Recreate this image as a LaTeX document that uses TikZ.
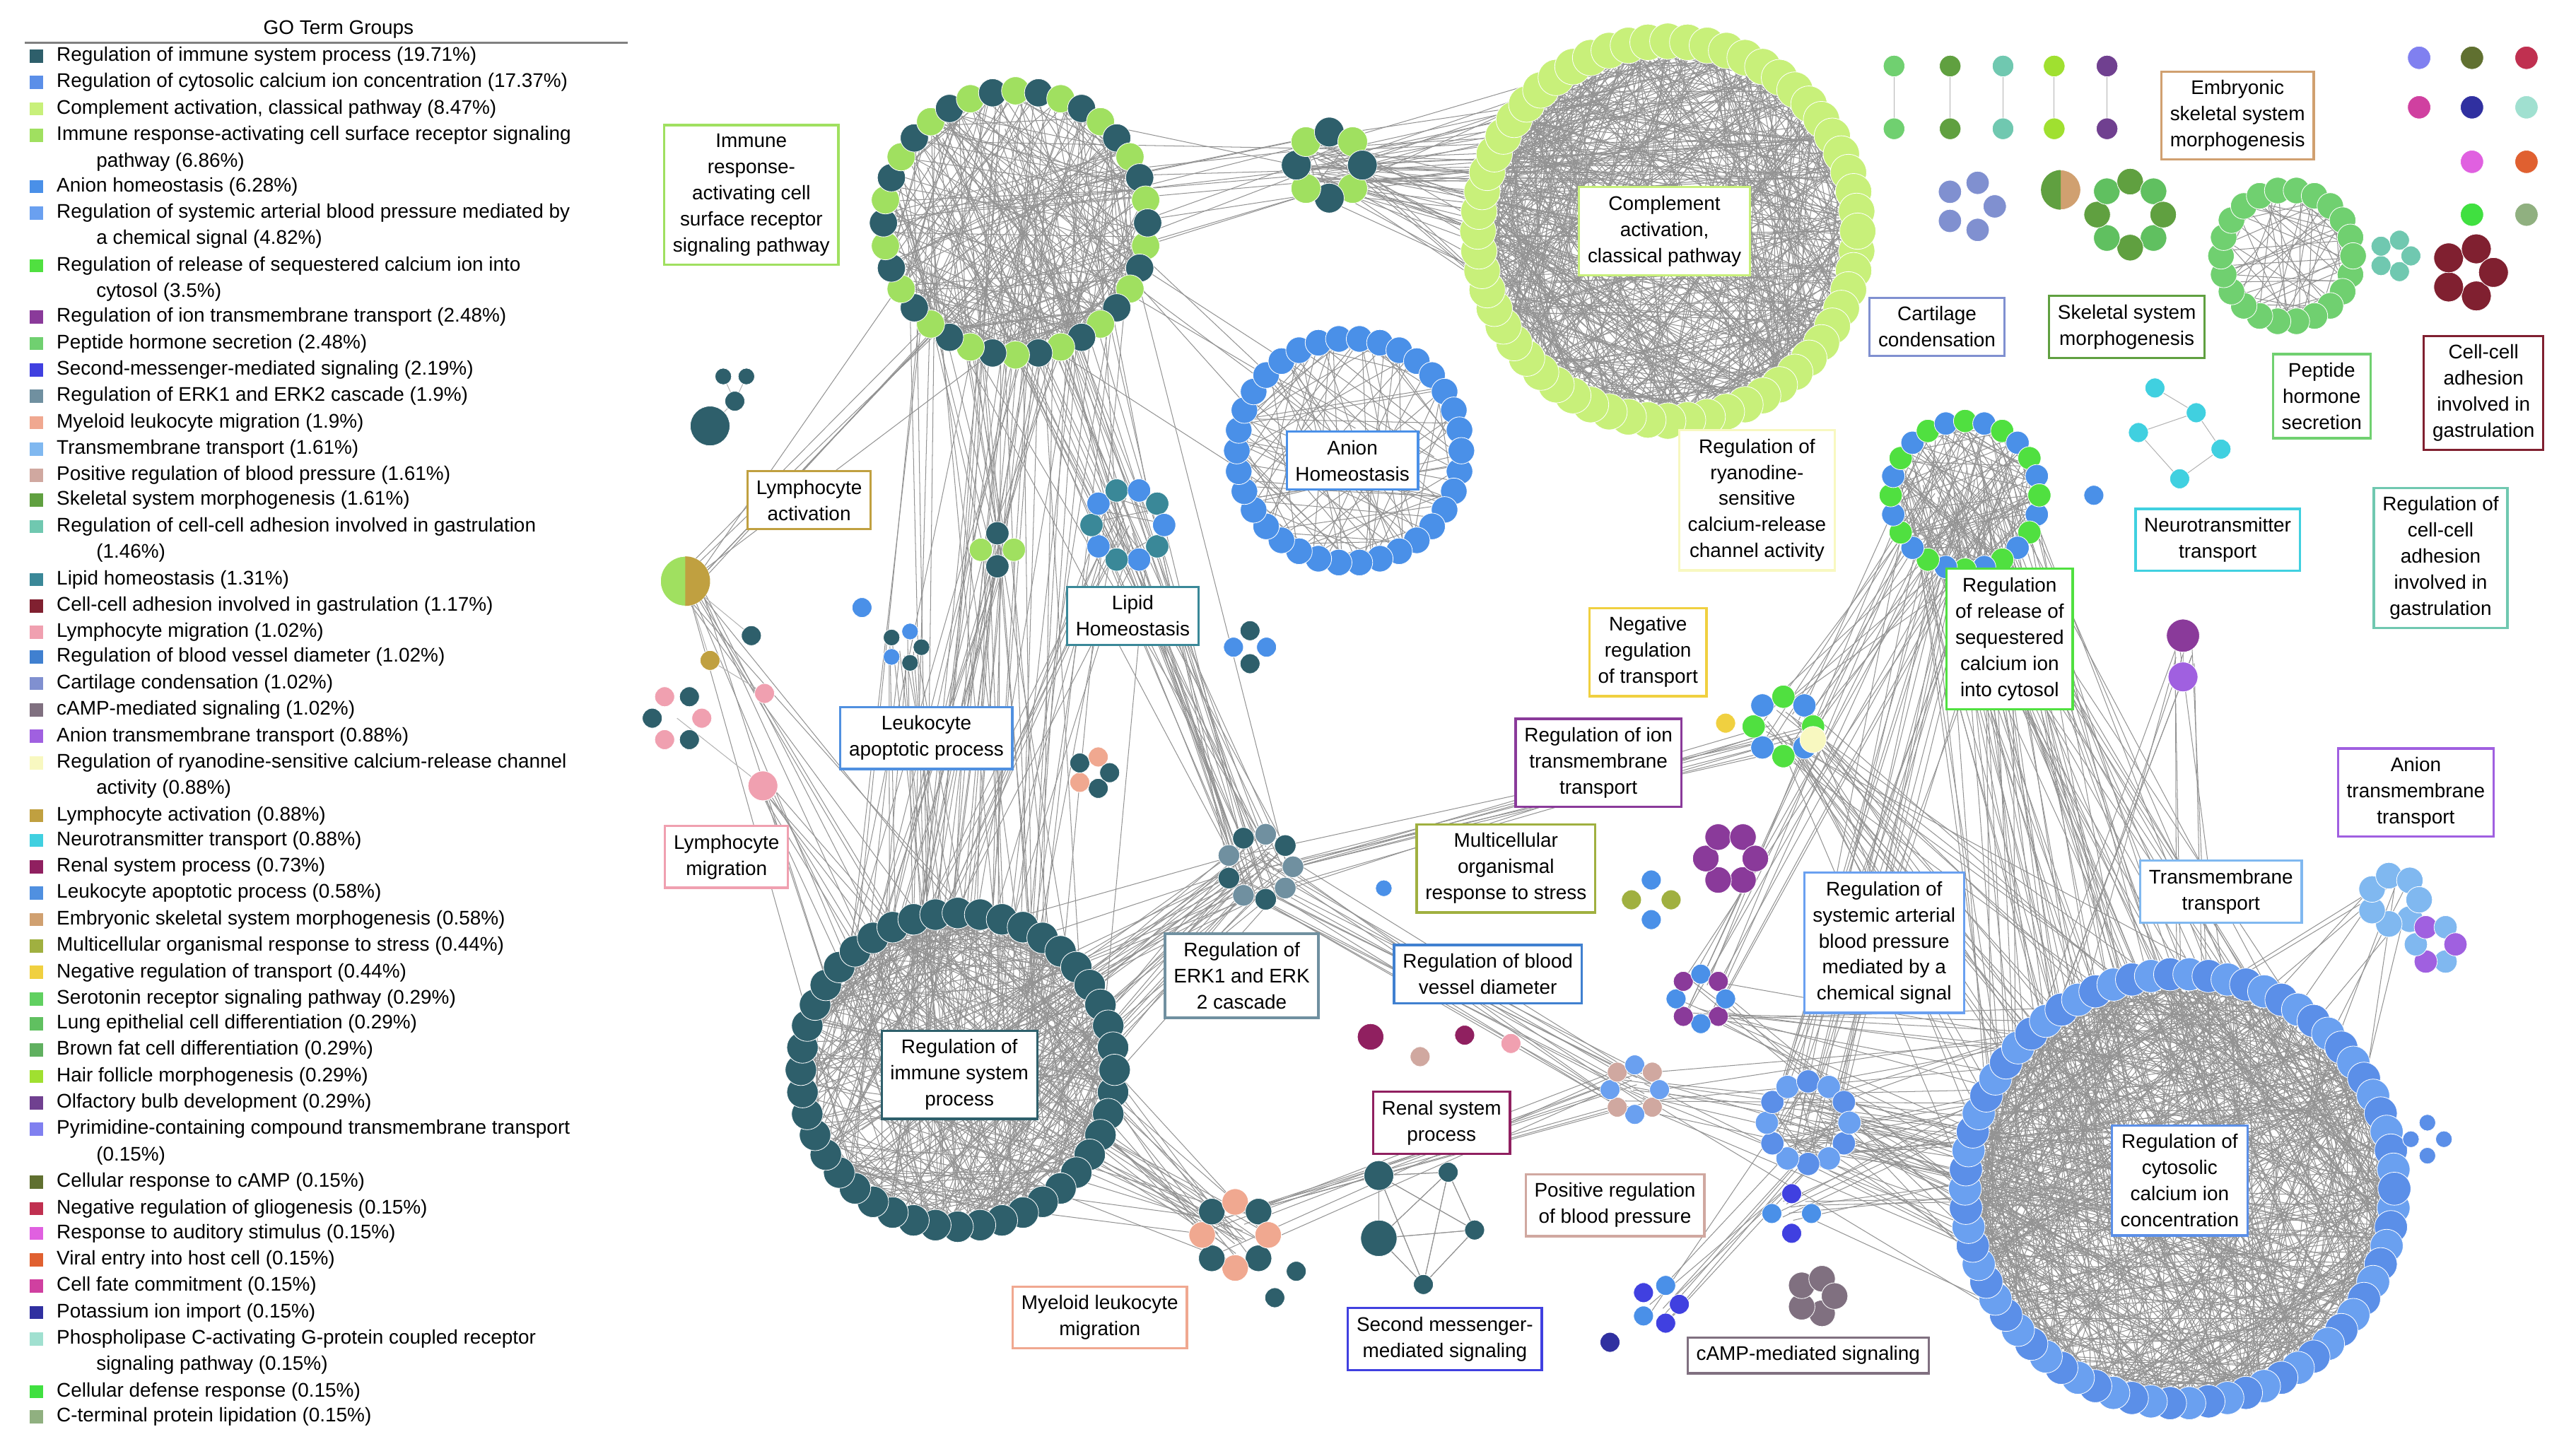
\documentclass[tikz,border=0pt]{standalone}
\usepackage{fontspec}
\setmainfont{Liberation Sans}
\usetikzlibrary{calc}
\definecolor{c1}{HTML}{2E5F6B}\definecolor{c2}{HTML}{5B8FE8}\definecolor{c3}{HTML}{C8F07A}
\definecolor{c4}{HTML}{A0E060}\definecolor{c5}{HTML}{4A90E8}\definecolor{c6}{HTML}{6AA0F0}
\definecolor{c7}{HTML}{50E040}\definecolor{c8}{HTML}{8A3A9A}\definecolor{c9}{HTML}{70D070}
\definecolor{c10}{HTML}{4040E0}\definecolor{c11}{HTML}{7090A0}\definecolor{c12}{HTML}{F0A890}
\definecolor{c13}{HTML}{80B8F0}\definecolor{c14}{HTML}{D0A8A0}\definecolor{c15}{HTML}{60A040}
\definecolor{c16}{HTML}{70C8B0}\definecolor{c17}{HTML}{3A8898}\definecolor{c18}{HTML}{802030}
\definecolor{c19}{HTML}{F0A0B0}\definecolor{c20}{HTML}{4080D0}\definecolor{c21}{HTML}{8090D0}
\definecolor{c22}{HTML}{807080}\definecolor{c23}{HTML}{A060E0}\definecolor{c24}{HTML}{F8F8C0}
\definecolor{c25}{HTML}{C0A040}\definecolor{c26}{HTML}{40D0E0}\definecolor{c27}{HTML}{902060}
\definecolor{c28}{HTML}{5090E0}\definecolor{c29}{HTML}{D0A070}\definecolor{c30}{HTML}{A0B040}
\definecolor{c31}{HTML}{F0D040}\definecolor{c32}{HTML}{60D060}\definecolor{c33}{HTML}{60C060}
\definecolor{c34}{HTML}{60B060}\definecolor{c35}{HTML}{A0E030}\definecolor{c36}{HTML}{704090}
\definecolor{c37}{HTML}{8080F0}\definecolor{c38}{HTML}{607030}\definecolor{c39}{HTML}{C03050}
\definecolor{c40}{HTML}{E060E0}\definecolor{c41}{HTML}{E06030}\definecolor{c42}{HTML}{D040A0}
\definecolor{c43}{HTML}{3030A0}\definecolor{c44}{HTML}{A0E0D0}\definecolor{c45}{HTML}{40E040}
\definecolor{c46}{HTML}{90B080}
\tikzset{
 edge/.style={gray!85,line width=0.25pt},
 lab/.style={draw=#1,fill=white,line width=0.8pt,font=\fontsize{6.8}{9}\selectfont,align=center,inner sep=3pt},
 legt/.style={anchor=west,font=\fontsize{6.8}{9}\selectfont,inner sep=0pt},
 dot/.style={draw=white,line width=0.2pt}
}
\newcommand{\leg}[3]{\fill[#2] (18,#1-4) rectangle (26,#1+4); \node[legt] (L#2) at (34,#1) {#3};}
\newcommand{\legc}[2]{\node[legt] at (58,#1) {#2};}
\newcommand{\chords}[4]{\foreach \k in {1,...,#4}{\pgfmathsetmacro\pa{rnd*360}\pgfmathsetmacro\pb{rnd*360}
 \draw[edge] ($(#1,#2)+(\pa:#3)$) -- ($(#1,#2)+(\pb:#3)$);}}
\newcommand{\bundle}[7]{\foreach \k in {1,...,#7}{\pgfmathsetmacro\pa{rnd*360}\pgfmathsetmacro\pr{#3*sqrt(rnd)}
 \pgfmathsetmacro\pb{rnd*360}\pgfmathsetmacro\ps{#6*sqrt(rnd)}
 \draw[edge] ($(#1,#2)+(\pa:\pr)$) -- ($(#4,#5)+(\pb:\ps)$);}}
\newcommand{\ring}[7]{\foreach \k in {1,...,#4}{\pgfmathsetmacro\pa{360/#4*\k}
 \pgfmathtruncatemacro\pmd{mod(\k,2)}
 \ifnum\pmd=0 \fill[dot,fill=#6] ($(#1,#2)+(\pa:#3)$) circle (#5);\else \fill[dot,fill=#7] ($(#1,#2)+(\pa:#3)$) circle (#5);\fi}}
\begin{document}
\begin{tikzpicture}[x=0.02cm,y=-0.02cm]
\useasboundingbox (0,0) rectangle (1560,874.6);
\pgfmathsetseed{7}
% ---------- legend
\node[font=\fontsize{6.8}{9}\selectfont] (gt) at (205,18) {GO Term Groups};
\draw[gray,line width=0.6pt] (15,26) -- (380,26);
\leg{34}{c1}{Regulation of immune system process (19.71\%)}
\leg{50}{c2}{Regulation of cytosolic calcium ion concentration (17.37\%)}
\leg{66}{c3}{Complement activation, classical pathway (8.47\%)}
\leg{82}{c4}{Immune response-activating cell surface receptor signaling}
\legc{98}{pathway (6.86\%)}
\leg{113}{c5}{Anion homeostasis (6.28\%)}
\leg{129}{c6}{Regulation of systemic arterial blood pressure mediated by}
\legc{145}{a chemical signal (4.82\%)}
\leg{161}{c7}{Regulation of release of sequestered calcium ion into}
\legc{177}{cytosol (3.5\%)}
\leg{192}{c8}{Regulation of ion transmembrane transport (2.48\%)}
\leg{208}{c9}{Peptide hormone secretion (2.48\%)}
\leg{224}{c10}{Second-messenger-mediated signaling (2.19\%)}
\leg{240}{c11}{Regulation of ERK1 and ERK2 cascade (1.9\%)}
\leg{256}{c12}{Myeloid leukocyte migration (1.9\%)}
\leg{272}{c13}{Transmembrane transport (1.61\%)}
\leg{288}{c14}{Positive regulation of blood pressure (1.61\%)}
\leg{303}{c15}{Skeletal system morphogenesis (1.61\%)}
\leg{319}{c16}{Regulation of cell-cell adhesion involved in gastrulation}
\legc{335}{(1.46\%)}
\leg{351}{c17}{Lipid homeostasis (1.31\%)}
\leg{367}{c18}{Cell-cell adhesion involved in gastrulation (1.17\%)}
\leg{383}{c19}{Lymphocyte migration (1.02\%)}
\leg{398}{c20}{Regulation of blood vessel diameter (1.02\%)}
\leg{414}{c21}{Cartilage condensation (1.02\%)}
\leg{430}{c22}{cAMP-mediated signaling (1.02\%)}
\leg{446}{c23}{Anion transmembrane transport (0.88\%)}
\leg{462}{c24}{Regulation of ryanodine-sensitive calcium-release channel}
\legc{478}{activity (0.88\%)}
\leg{494}{c25}{Lymphocyte activation (0.88\%)}
\leg{509}{c26}{Neurotransmitter transport (0.88\%)}
\leg{525}{c27}{Renal system process (0.73\%)}
\leg{541}{c28}{Leukocyte apoptotic process (0.58\%)}
\leg{557}{c29}{Embryonic skeletal system morphogenesis (0.58\%)}
\leg{573}{c30}{Multicellular organismal response to stress (0.44\%)}
\leg{589}{c31}{Negative regulation of transport (0.44\%)}
\leg{605}{c32}{Serotonin receptor signaling pathway (0.29\%)}
\leg{620}{c33}{Lung epithelial cell differentiation (0.29\%)}
\leg{636}{c34}{Brown fat cell differentiation (0.29\%)}
\leg{652}{c35}{Hair follicle morphogenesis (0.29\%)}
\leg{668}{c36}{Olfactory bulb development (0.29\%)}
\leg{684}{c37}{Pyrimidine-containing compound transmembrane transport}
\legc{700}{(0.15\%)}
\leg{716}{c38}{Cellular response to cAMP (0.15\%)}
\leg{732}{c39}{Negative regulation of gliogenesis (0.15\%)}
\leg{747}{c40}{Response to auditory stimulus (0.15\%)}
\leg{763}{c41}{Viral entry into host cell (0.15\%)}
\leg{779}{c42}{Cell fate commitment (0.15\%)}
\leg{795}{c43}{Potassium ion import (0.15\%)}
\leg{811}{c44}{Phospholipase C-activating G-protein coupled receptor}
\legc{827}{signaling pathway (0.15\%)}
\leg{843}{c45}{Cellular defense response (0.15\%)}
\leg{858}{c46}{C-terminal protein lipidation (0.15\%)}
% ---------- edges
\chords{615}{135}{80}{220}
\chords{1010}{140}{115}{600}
\chords{805}{100}{20}{15}
\chords{817}{273}{68}{110}
\chords{580}{648}{95}{380}
\chords{1320}{720}{130}{650}
\chords{1190}{300}{45}{110}
\chords{1385}{155}{40}{70}
\chords{1095}{680}{25}{30}
\chords{683}{318}{22}{15}
\bundle{805}{100}{20}{1010}{140}{110}{60}
\bundle{615}{135}{75}{805}{100}{20}{15}
\bundle{615}{135}{75}{580}{648}{90}{45}
\bundle{615}{135}{75}{763}{525}{20}{20}
\bundle{580}{648}{90}{763}{525}{20}{35}
\bundle{580}{648}{90}{748}{748}{20}{30}
\bundle{580}{648}{90}{604}{333}{10}{15}
\bundle{615}{135}{75}{604}{333}{10}{10}
\bundle{763}{525}{20}{1080}{440}{18}{10}
\bundle{1190}{300}{45}{1320}{720}{125}{70}
\bundle{1190}{300}{45}{1095}{680}{25}{20}
\bundle{1320}{720}{125}{1095}{680}{25}{40}
\bundle{1320}{720}{125}{990}{660}{15}{15}
\bundle{1320}{720}{125}{1030}{605}{15}{15}
\bundle{580}{648}{90}{683}{318}{22}{12}
\bundle{615}{135}{75}{683}{318}{22}{10}
\bundle{415}{352}{10}{615}{135}{75}{8}
\bundle{415}{352}{10}{580}{648}{90}{10}
\bundle{1080}{440}{18}{1320}{720}{125}{25}
\bundle{1190}{300}{45}{1080}{440}{18}{12}
\bundle{817}{273}{60}{615}{135}{75}{6}
\bundle{683}{318}{22}{763}{525}{20}{10}
\bundle{990}{660}{15}{748}{748}{20}{10}
\bundle{763}{525}{20}{990}{660}{15}{15}
\bundle{1030}{605}{15}{1190}{300}{45}{12}
\bundle{1322}{397}{10}{1320}{720}{125}{10}
\bundle{1450}{540}{15}{1320}{720}{125}{10}
\bundle{548}{392}{10}{580}{648}{90}{12}
\bundle{462}{476}{5}{580}{648}{90}{8}
\bundle{1005}{790}{12}{1095}{680}{25}{8}
\bundle{1085}{735}{12}{1320}{720}{125}{10}
\foreach \a/\b in {835/712,877/710,893/745,862/778,835/750}{\foreach \c/\d in {835/712,877/710,893/745,862/778,835/750}{\draw[edge] (\a,\b)--(\c,\d);}}
\foreach \a/\b/\c/\d in {1305/235/1330/250,1330/250/1295/262,1295/262/1320/290,1320/290/1345/272,1345/272/1330/250,1147/40/1147/78,1181/40/1181/78,1213/40/1213/78,1244/40/1244/78,1276/40/1276/78,1322/385/1322/410,430/258/445/243,445/243/452/228,445/243/438/228,415/352/430/400,415/352/455/385,430/400/463/420,410/435/462/476}{\draw[edge,gray!60] (\a,\b)--(\c,\d);}
% ---------- big clusters
\ring{615}{135}{80}{36}{8.5}{c1}{c4}
\ring{1010}{140}{115}{60}{11}{c3}{c3}
\ring{817}{273}{68}{34}{8}{c5}{c5}
\ring{580}{648}{95}{44}{9.5}{c1}{c1}
\ring{1320}{720}{130}{70}{10}{c2}{c6}
\ring{1190}{300}{45}{24}{7}{c7}{c5}
\ring{1385}{155}{40}{22}{8}{c9}{c9}
% ---------- small clusters
\ring{805}{100}{20}{8}{9}{c1}{c4}
\fill[dot,fill=c1] (430,258) circle (12); \fill[dot,fill=c1] (445,243) circle (6);
\fill[dot,fill=c1] (452,228) circle (5); \fill[dot,fill=c1] (438,228) circle (5);
\fill[dot,fill=c4] (415,352) circle (15); \fill[c25] (415,337) arc (-90:90:15) -- cycle;
\fill[dot,fill=c25] (430,400) circle (6); \fill[dot,fill=c1] (455,385) circle (6); \fill[dot,fill=c19] (463,420) circle (6);
\ring{410}{435}{15}{6}{6}{c19}{c1}
\fill[dot,fill=c19] (462,476) circle (9);
\ring{604}{333}{10}{4}{7}{c4}{c1}
\ring{683}{318}{22}{10}{7}{c5}{c17}
\ring{548}{392}{10}{5}{5}{c5}{c1}
\ring{757}{392}{10}{4}{6}{c5}{c1}
\fill[dot,fill=c5] (522,368) circle (6);
\ring{662}{468}{10}{5}{6}{c12}{c1}
\ring{763}{525}{20}{9}{6.5}{c1}{c11}
\fill[dot,fill=c5] (838,538) circle (5);
\ring{748}{748}{20}{8}{8}{c12}{c1}
\fill[dot,fill=c1] (785,770) circle (6); \fill[dot,fill=c1] (772,786) circle (6);
\foreach \a/\b/\r in {835/712/9,877/710/6,893/745/6,862/778/6,835/750/11}{\fill[dot,fill=c1] (\a,\b) circle (\r);}
\fill[dot,fill=c27] (830,628) circle (8); \fill[dot,fill=c27] (887,627) circle (6);
\fill[dot,fill=c19] (915,632) circle (6); \fill[dot,fill=c14] (860,640) circle (6);
\ring{1000}{545}{12}{4}{6}{c30}{c5}
\ring{1048}{520}{15}{6}{8}{c8}{c8}
\ring{1030}{605}{15}{8}{6}{c5}{c8}
\ring{990}{660}{15}{8}{6}{c6}{c14}
\ring{1095}{680}{25}{12}{7}{c6}{c2}
\ring{1085}{735}{12}{4}{6}{c5}{c10}
\ring{1005}{790}{12}{5}{6}{c5}{c10}
\fill[dot,fill=c43] (975,813) circle (6);
\ring{1100}{785}{11}{5}{8}{c22}{c22}
\ring{1080}{440}{18}{8}{7}{c7}{c5}
\fill[dot,fill=c31] (1045,438) circle (6); \fill[dot,fill=c24] (1098,448) circle (8);
\fill[dot,fill=c8] (1322,385) circle (10); \fill[dot,fill=c23] (1322,410) circle (9);
\fill[dot,fill=c5] (1268,300) circle (6);
\foreach \a/\b in {1305/235,1330/250,1295/262,1320/290,1345/272}{\fill[dot,fill=c26] (\a,\b) circle (6);}
\foreach \a/\c in {1147/c9,1181/c15,1213/c16,1244/c35,1276/c36}{\fill[dot,fill=\c] (\a,40) circle (6.5); \fill[dot,fill=\c] (\a,78) circle (6.5);}
\foreach \a/\b/\c in {1465/35/c37,1497/35/c38,1530/35/c39,1465/65/c42,1497/65/c43,1530/65/c44,1497/98/c40,1530/98/c41,1497/130/c45,1530/130/c46}{\fill[dot,fill=\c] (\a,\b) circle (7);}
\fill[dot,fill=c29] (1248,115) circle (12); \fill[c15] (1248,127) arc (90:270:12) -- cycle;
\ring{1290}{130}{20}{8}{8}{c15}{c33}
\ring{1193}{125}{15}{5}{7}{c21}{c21}
\ring{1450}{155}{10}{5}{6}{c16}{c16}
\ring{1495}{165}{15}{5}{9}{c18}{c18}
\ring{1450}{545}{15}{7}{8}{c13}{c13}
\ring{1475}{572}{12}{6}{7}{c23}{c13}
\ring{1470}{690}{10}{4}{5}{c2}{c2}
% ---------- labels
\node[lab=c4] (n1) at (455,118) {Immune\\response-\\activating cell\\surface receptor\\signaling pathway};
\node[lab=c3] (n2) at (1008,140) {Complement\\activation,\\classical pathway};
\node[lab=c29] (n3) at (1355,70) {Embryonic\\skeletal system\\morphogenesis};
\node[lab=c21] (n4) at (1173,198) {Cartilage\\condensation};
\node[lab=c15] (n5) at (1288,198) {Skeletal system\\morphogenesis};
\node[lab=c9] (n6) at (1406,240) {Peptide\\hormone\\secretion};
\node[lab=c18] (n7) at (1504,238) {Cell-cell\\adhesion\\involved in\\gastrulation};
\node[lab=c5] (n8) at (819,279) {Anion\\Homeostasis};
\node[lab=c25] (n9) at (490,303) {Lymphocyte\\activation};
\node[lab=c24] (n10) at (1064,303) {Regulation of\\ryanodine-\\sensitive\\calcium-release\\channel activity};
\node[lab=c26] (n11) at (1343,327) {Neurotransmitter\\transport};
\node[lab=c16] (n12) at (1478,338) {Regulation of\\cell-cell\\adhesion\\involved in\\gastrulation};
\node[lab=c17] (n13) at (686,373) {Lipid\\Homeostasis};
\node[lab=c31] (n14) at (998,395) {Negative\\regulation\\of transport};
\node[lab=c7] (n15) at (1217,387) {Regulation\\of release of\\sequestered\\calcium ion\\into cytosol};
\node[lab=c28] (n16) at (561,447) {Leukocyte\\apoptotic process};
\node[lab=c8] (n17) at (968,462) {Regulation of ion\\transmembrane\\transport};
\node[lab=c23] (n18) at (1463,480) {Anion\\transmembrane\\transport};
\node[lab=c19] (n19) at (440,519) {Lymphocyte\\migration};
\node[lab=c30] (n20) at (912,526) {Multicellular\\organismal\\response to stress};
\node[lab=c6] (n21) at (1141,571) {Regulation of\\systemic arterial\\blood pressure\\mediated by a\\chemical signal};
\node[lab=c13] (n22) at (1345,540) {Transmembrane\\transport};
\node[lab=c11] (n23) at (752,591) {Regulation of\\ERK1 and ERK\\2 cascade};
\node[lab=c20] (n24) at (901,590) {Regulation of blood\\vessel diameter};
\node[lab=c1] (n25) at (581,651) {Regulation of\\immune system\\process};
\node[lab=c27] (n26) at (873,680) {Renal system\\process};
\node[lab=c2] (n27) at (1320,715) {Regulation of\\cytosolic\\calcium ion\\concentration};
\node[lab=c14] (n28) at (978,730) {Positive regulation\\of blood pressure};
\node[lab=c12] (n29) at (666,798) {Myeloid leukocyte\\migration};
\node[lab=c10] (n30) at (875,811) {Second messenger-\\mediated signaling};
\node[lab=c22] (n31) at (1095,821) {cAMP-mediated signaling};
\end{tikzpicture}
\end{document}
